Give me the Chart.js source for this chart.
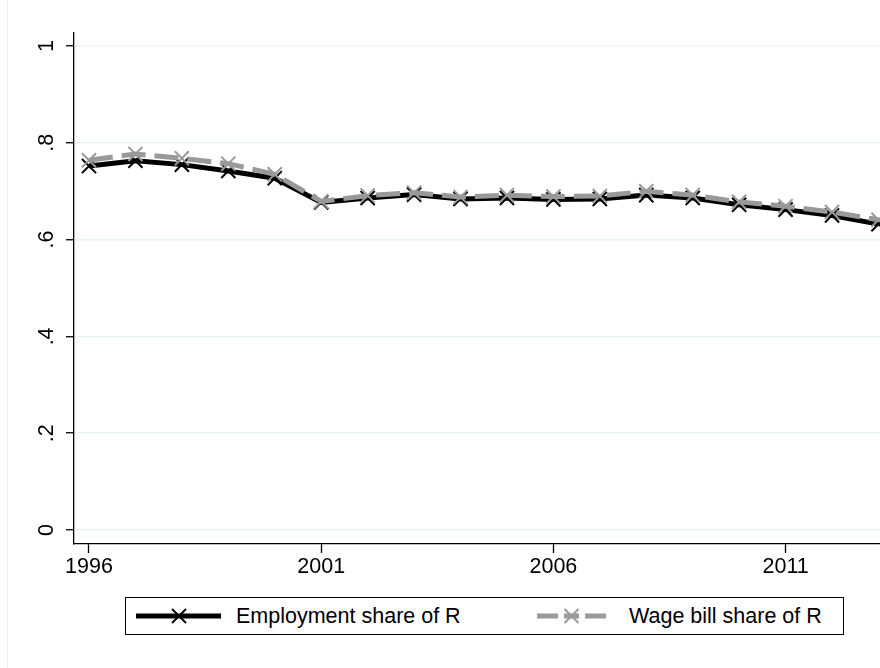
<!DOCTYPE html>
<html>
<head>
<meta charset="utf-8">
<script src="https://cdn.jsdelivr.net/npm/chart.js@4.4.0/dist/chart.umd.min.js"></script>
<style>
html, body { margin: 0; padding: 0; background: #fff; }
body { width: 880px; height: 668px; position: relative; overflow: hidden; font-family: "Liberation Sans", Arial, sans-serif; }
#frame { position: absolute; left: 7px; top: 0; width: 1px; height: 668px; background: #eef2f5; }
#wrap { position: absolute; left: 0; top: 0; width: 880px; height: 590px; }
#legend { position: absolute; left: 125px; top: 597px; width: 719px; height: 38px; border: 1px solid #000; box-sizing: border-box; }
.item { position: absolute; top: 0; height: 36px; display: flex; align-items: center; font-size: 21.5px; color: #000; white-space: nowrap; }
.item svg { display: block; }
</style>
</head>
<body>
<div id="frame"></div>
<div id="wrap"><canvas id="chart" width="880" height="590"></canvas></div>
<div id="legend">
    <div class="item" style="left:10px">
        <svg width="85" height="20">
            <line x1="0" y1="10" x2="85" y2="10" stroke="#000" stroke-width="5"/>
            <line x1="36" y1="3" x2="50" y2="17" stroke="#000" stroke-width="2"/>
            <line x1="36" y1="17" x2="50" y2="3" stroke="#000" stroke-width="2"/>
        </svg>
        <span style="margin-left:15px">Employment share of R</span>
    </div>
    <div class="item" style="left:403px">
        <svg width="85" height="20">
            <line x1="8" y1="10" x2="29" y2="10" stroke="#999" stroke-width="5"/>
            <line x1="35" y1="10" x2="50" y2="10" stroke="#999" stroke-width="5"/>
            <line x1="56" y1="10" x2="77" y2="10" stroke="#999" stroke-width="5"/>
            <line x1="35.5" y1="3" x2="49.5" y2="17" stroke="#999" stroke-width="2"/>
            <line x1="35.5" y1="17" x2="49.5" y2="3" stroke="#999" stroke-width="2"/>
        </svg>
        <span style="margin-left:15px">Wage bill share of R</span>
    </div>
</div>
<script>
const years = [1996, 1997, 1998, 1999, 2000, 2001, 2002, 2003, 2004, 2005, 2006, 2007, 2008, 2009, 2010, 2011, 2012, 2013];
const employmentShare = [0.752, 0.763, 0.755, 0.742, 0.727, 0.677, 0.686, 0.693, 0.684, 0.686, 0.683, 0.684, 0.692, 0.686, 0.672, 0.662, 0.650, 0.632];
const wageBillShare = [0.764, 0.777, 0.768, 0.757, 0.735, 0.679, 0.691, 0.697, 0.688, 0.692, 0.689, 0.690, 0.700, 0.692, 0.678, 0.669, 0.657, 0.641];
const xTicks = [1996, 2001, 2006, 2011];
const yTicks = [0, 0.2, 0.4, 0.6, 0.8, 1];
const yTickLabels = ['0', '.2', '.4', '.6', '.8', '1'];

const fontFamily = '"Liberation Sans", Arial, sans-serif';

// y labels are drawn turned, reading upward, like Stata does
const yLabelPlugin = {
    id: 'yLabels',
    afterDraw(chart) {
        const ctx = chart.ctx;
        const y = chart.scales.y;
        ctx.save();
        ctx.font = '21.5px ' + fontFamily;
        ctx.fillStyle = '#000';
        ctx.textAlign = 'center';
        ctx.textBaseline = 'alphabetic';
        yTicks.forEach((v, i) => {
            ctx.save();
            ctx.translate(53, y.getPixelForValue(v));
            ctx.rotate(-Math.PI / 2);
            ctx.fillText(yTickLabels[i], 0, 0);
            ctx.restore();
        });
        ctx.restore();
    }
};

const toPoints = arr => arr.map((v, i) => ({ x: years[i], y: v }));

new Chart(document.getElementById('chart').getContext('2d'), {
    type: 'line',
    data: {
        datasets: [{
            label: 'Wage bill share of R',
            data: toPoints(wageBillShare),
            borderColor: '#999',
            borderWidth: 5,
            borderDash: [24, 9],
            pointStyle: 'crossRot',
            pointRadius: 10,
            pointBorderWidth: 2,
            pointBorderColor: '#999',
            pointBackgroundColor: '#999',
            tension: 0,
            fill: false,
            order: 1
        }, {
            label: 'Employment share of R',
            data: toPoints(employmentShare),
            borderColor: '#000',
            borderWidth: 5,
            pointStyle: 'crossRot',
            pointRadius: 10,
            pointBorderWidth: 2,
            pointBorderColor: '#000',
            pointBackgroundColor: '#000',
            tension: 0,
            fill: false,
            order: 2
        }]
    },
    options: {
        responsive: false,
        animation: false,
        devicePixelRatio: 1,
        layout: { autoPadding: false, padding: { top: 33, left: 0, right: 0, bottom: 0 } },
        plugins: {
            legend: { display: false },
            tooltip: { enabled: false }
        },
        scales: {
            x: {
                type: 'linear',
                min: 1995.677,
                max: 2013.033,
                afterBuildTicks: s => { s.ticks = xTicks.map(v => ({ value: v })); },
                afterFit: s => { s.height = 46; s.paddingLeft = 0; s.paddingRight = 0; },
                grid: { drawOnChartArea: false, drawTicks: true, tickLength: 9, tickColor: '#000', tickWidth: 1.3 },
                border: { color: '#000', width: 1.3 },
                ticks: {
                    color: '#000',
                    font: { size: 21.5, family: fontFamily },
                    padding: 1,
                    maxRotation: 0,
                    autoSkip: false,
                    callback: v => String(v)
                }
            },
            y: {
                min: -0.029,
                max: 1.027,
                afterBuildTicks: s => { s.ticks = yTicks.map(v => ({ value: v })); },
                afterFit: s => { s.width = 74; s.paddingTop = 0; s.paddingBottom = 0; },
                grid: { color: '#eaf1f4', lineWidth: 1.5, drawTicks: true, tickLength: 8, tickColor: '#000', tickWidth: 1.3 },
                border: { color: '#000', width: 1.3 },
                ticks: { display: false }
            }
        }
    },
    plugins: [yLabelPlugin]
});
</script>
</body>
</html>
